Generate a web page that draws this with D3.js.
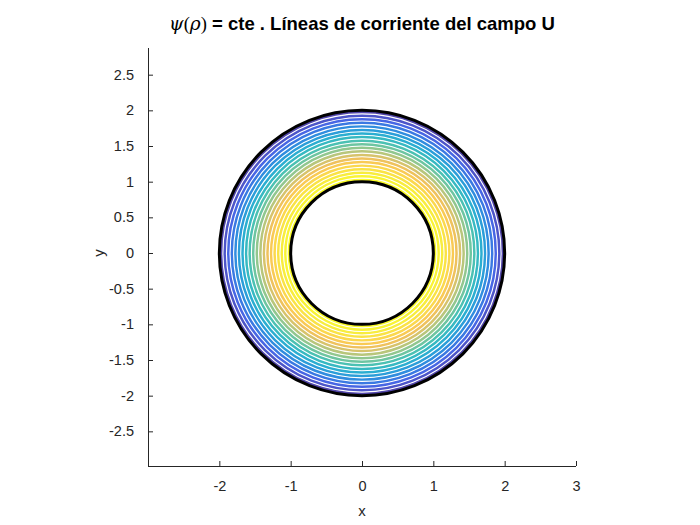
<!DOCTYPE html>
<html>
<head>
<meta charset="utf-8">
<script src="https://cdn.jsdelivr.net/npm/d3@7"></script>
<style>
  body { margin: 0; background: #fff; }
  text { font-family: "Liberation Sans", Arial, Helvetica, sans-serif; }
</style>
</head>
<body>
<svg id="chart" width="700" height="525"></svg>
<script>
// ---- data ----
const contourRadii = [1.00, 1.05, 1.10, 1.15, 1.20, 1.25, 1.30, 1.35, 1.40, 1.45, 1.50,
                      1.55, 1.60, 1.65, 1.70, 1.75, 1.80, 1.85, 1.90, 1.95, 2.00];
const boundaryRadii = [1, 2];
const xTicks = [-2, -1, 0, 1, 2, 3];
const yTicks = [2.5, 2, 1.5, 1, 0.5, 0, -0.5, -1, -1.5, -2, -2.5];
const xDomain = [-3, 3];
const yDomain = [-2.986, 2.874];
const parula = ["#3a2c9e", "#2f4fe0", "#1479dc", "#0a9fd0", "#22b6b0", "#6cc08a",
                "#c0bd60", "#f6b842", "#fbd632", "#f7ec22", "#f9fb0e"];

const svg = d3.select("#chart");
const L = 148, R = 576, T = 48, B = 466;
const x = d3.scaleLinear().domain(xDomain).range([L, R]);
const y = d3.scaleLinear().domain(yDomain).range([B, T]);
const cmap = d3.scaleLinear().domain(parula.map((d, i) => i / (parula.length - 1))).range(parula)
  .interpolate(d3.interpolateRgb);
const rpx = r => x(r) - x(0);

const g = svg.append("g").attr("transform", `translate(${x(0)},${y(0)})`);
const nb = contourRadii.length - 1;
const bands = d3.range(nb).map(i => ({ r0: contourRadii[i], r1: contourRadii[i + 1], t: 1 - i / (nb - 1) }));
const arc = d3.arc().startAngle(0).endAngle(2 * Math.PI);
g.selectAll("path.band").data(bands).join("path")
  .attr("class", "band")
  .attr("d", d => arc({ innerRadius: rpx(d.r0), outerRadius: rpx(d.r1) }))
  .attr("fill", d => cmap(d.t))
  .attr("fill-opacity", 0.88);
g.selectAll("circle.cl").data(contourRadii.slice(1, -1)).join("circle")
  .attr("class", "cl").attr("r", d => rpx(d))
  .attr("fill", "none").attr("stroke", "#fff").attr("stroke-width", 1.1);
g.selectAll("circle.bd").data(boundaryRadii).join("circle")
  .attr("class", "bd").attr("r", d => rpx(d))
  .attr("fill", "none").attr("stroke", "#000").attr("stroke-width", 3);

// axes
const axCol = "#262626";
const fmt = d => String(d);
const xAxis = d3.axisBottom(x).tickValues(xTicks).tickSize(-5).tickPadding(15).tickFormat(fmt);
const yAxis = d3.axisLeft(y).tickValues(yTicks).tickSize(-5).tickPadding(14).tickFormat(fmt);
const gx = svg.append("g").attr("transform", `translate(0,${B})`).call(xAxis);
const gy = svg.append("g").attr("transform", `translate(${L},0)`).call(yAxis);
[gx, gy].forEach(a => {
  a.select(".domain").attr("stroke", axCol).attr("stroke-width", 1).attr("d",
    a === gx ? `M${L},0.5H${R}` : `M0.5,${T}V${B}`);
  a.selectAll(".tick line").attr("stroke", axCol);
  a.selectAll(".tick text").attr("fill", axCol).style("font-size", "14.5px")
    .style("font-family", "'Liberation Sans', Arial, sans-serif");
});
gx.selectAll(".tick text").attr("dy", "0.71em");

svg.append("text").attr("x", (L + R) / 2).attr("y", 516).attr("text-anchor", "middle")
  .attr("fill", axCol).style("font-size", "15px").text("x");
svg.append("text").attr("transform", `translate(104,${y(0)}) rotate(-90)`).attr("text-anchor", "middle")
  .attr("fill", axCol).style("font-size", "15px").text("y");

// title
const title = svg.append("text").attr("x", 362).attr("y", 30).attr("text-anchor", "middle")
  .attr("fill", "#000").style("font-size", "18.5px").style("font-weight", "bold");
title.append("tspan").style("font-family", "'DejaVu Serif', 'Liberation Serif', serif")
  .style("font-style", "italic").style("font-weight", "normal").text("ψ");
title.append("tspan").style("font-family", "'Liberation Serif', serif").style("font-weight", "normal").text("(");
title.append("tspan").style("font-family", "'DejaVu Serif', 'Liberation Serif', serif")
  .style("font-style", "italic").style("font-weight", "normal").text("ρ");
title.append("tspan").style("font-family", "'Liberation Serif', serif").style("font-weight", "normal").text(")");
title.append("tspan").text(" = cte . Líneas de corriente del campo U");
</script>
</body>
</html>
